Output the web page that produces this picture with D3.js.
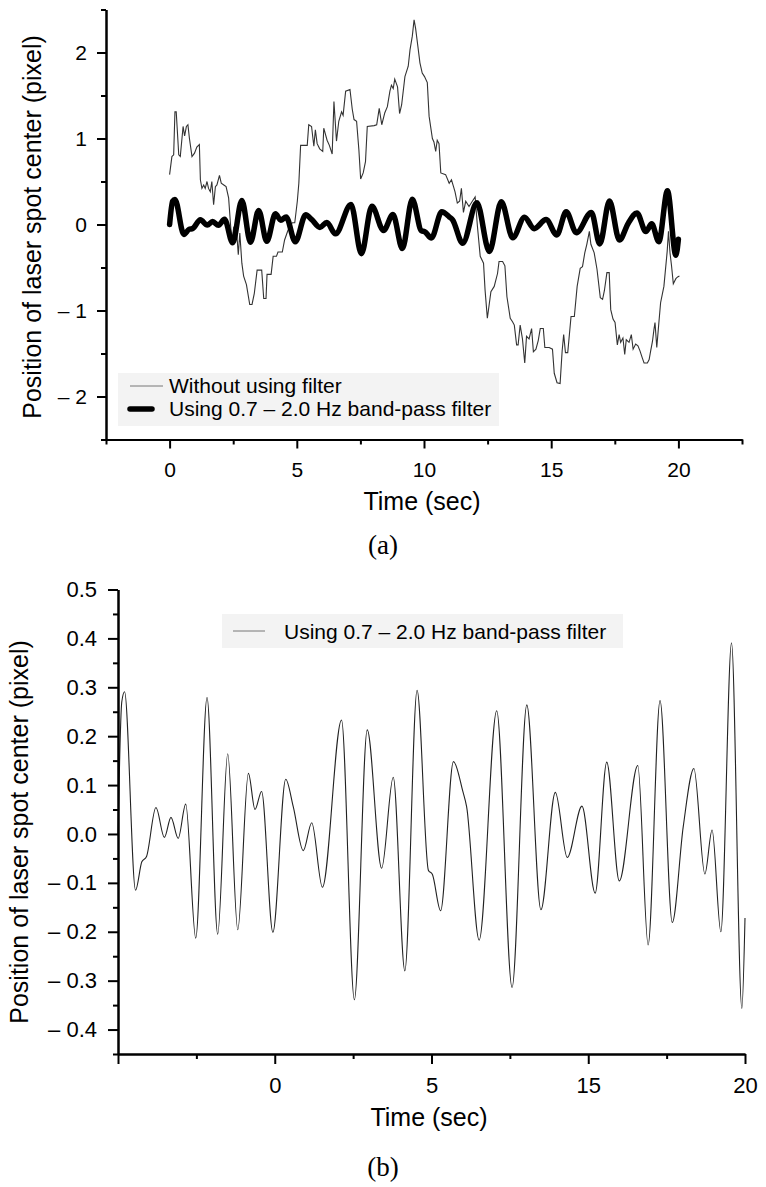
<!DOCTYPE html>
<html>
<head>
<meta charset="utf-8">
<script src="https://cdn.jsdelivr.net/npm/d3@7"></script>
<style>
  body { margin: 0; background: #fff; }
  text { font-family: "Liberation Sans", Arial, sans-serif; fill: #000; }
  .axis path, .axis line { stroke: #000; stroke-width: 2; }
  .axis text { font-size: 21px; }
</style>
</head>
<body>
<script>
// filtered signal (0.7 - 2.0 Hz band-pass), time in sec / value in pixel
let filtTime = [0, 0.12, 0.21, 0.56, 0.76, 0.91, 1.21, 1.48, 1.69, 1.92, 2.16, 2.48, 2.84, 3.18, 3.50, 3.82,
  4.16, 4.37, 4.58, 4.94, 5.35, 5.59, 5.91, 6.18, 6.52, 7.13, 7.54, 7.95, 8.41, 8.78, 9.15, 9.54, 9.90,
  10.03, 10.29, 10.70, 11.0, 11.12, 11.52, 12.08, 12.57, 13.04, 13.49, 13.95, 14.33, 14.80, 15.22, 15.59,
  15.99, 16.58, 16.91, 17.29, 17.68, 18.03, 18.37, 18.72, 18.95, 19.23, 19.57, 19.90, 20.0];
let filtValue = [0.0, 0.27, 0.291, -0.115, -0.057, -0.046, 0.054, -0.007, 0.034, -0.009, 0.061, -0.213, 0.279,
  -0.205, 0.164, -0.196, 0.124, 0.050, 0.087, -0.201, 0.112, 0.056, -0.034, 0.023, -0.109, 0.233, -0.339,
  0.213, -0.070, 0.116, -0.280, 0.294, -0.074, -0.083, -0.157, 0.148, 0.087, 0.056, -0.217, 0.252, -0.314,
  0.264, -0.155, 0.085, -0.048, 0.057, -0.121, 0.147, -0.096, 0.140, -0.227, 0.273, -0.181, 0.015, 0.134,
  -0.082, 0.008, -0.200, 0.391, -0.357, -0.172];

// unfiltered signal
let rawTime = [0, 0.09, 0.16, 0.21, 0.26, 0.36, 0.42, 0.53, 0.59, 0.66, 0.72, 0.78, 0.88, 0.98, 1.07, 1.17,
  1.21, 1.27, 1.34, 1.40, 1.47, 1.53, 1.60, 1.66, 1.73, 1.80, 1.86, 1.96, 2.03, 2.13, 2.22, 2.32, 2.39,
  2.45, 2.52, 2.62, 2.70, 2.76, 2.84, 2.91, 3.02, 3.15, 3.24, 3.33, 3.44, 3.57, 3.62, 3.70, 3.79, 3.83,
  3.99, 4.07, 4.20, 4.26, 4.43, 4.52, 4.65, 4.82, 4.92, 5.02, 5.08, 5.15, 5.41, 5.47, 5.58, 5.67, 5.73,
  5.80, 5.90, 6.02, 6.06, 6.19, 6.28, 6.39, 6.46, 6.56, 6.65, 6.76, 6.82, 6.92, 7.09, 7.18, 7.25, 7.35,
  7.44, 7.51, 7.61, 7.70, 7.77, 8.04, 8.14, 8.24, 8.34, 8.46, 8.56, 8.66, 8.72, 8.79, 8.85, 8.96, 9.04,
  9.12, 9.25, 9.38, 9.45, 9.54, 9.61, 9.67, 9.76, 9.84, 9.93, 10.02, 10.13, 10.20, 10.33, 10.39, 10.46,
  10.52, 10.59, 10.66, 10.85, 10.99, 11.08, 11.16, 11.22, 11.31, 11.40, 11.47, 11.55, 11.64, 11.77, 11.90,
  12.01, 12.10, 12.21, 12.34, 12.40, 12.49, 12.63, 12.76, 12.89, 12.95, 13.09, 13.18, 13.26, 13.39, 13.48,
  13.55, 13.64, 13.70, 13.78, 13.87, 13.96, 14.03, 14.13, 14.23, 14.30, 14.40, 14.49, 14.57, 14.69, 14.75,
  14.92, 15.05, 15.12, 15.23, 15.35, 15.43, 15.49, 15.56, 15.65, 15.78, 15.91, 16.02, 16.14, 16.23, 16.32,
  16.40, 16.50, 16.56, 16.69, 16.80, 16.93, 17.02, 17.09, 17.19, 17.28, 17.34, 17.43, 17.51, 17.60, 17.67,
  17.73, 17.82, 17.89, 17.95, 18.06, 18.15, 18.22, 18.32, 18.41, 18.49, 18.58, 18.65, 18.78, 18.85, 18.91,
  18.98, 19.04, 19.08, 19.15, 19.21, 19.30, 19.43, 19.56, 19.61, 19.67, 19.73, 19.80, 19.90, 19.97, 20.04];
let rawValue = [0.58, 0.79, 0.81, 1.31, 1.31, 0.81, 0.79, 1.14, 1.03, 1.14, 1.16, 1.0, 0.79, 0.83, 0.9, 0.93,
  0.52, 0.42, 0.46, 0.42, 0.50, 0.42, 0.38, 0.50, 0.23, 0.44, 0.46, 0.57, 0.48, 0.46, 0.44, 0.31, 0.02,
  -0.21, -0.03, -0.02, -0.35, -0.10, -0.45, -0.60, -0.70, -0.93, -0.93, -0.80, -0.53, -0.53, -0.53, -0.86,
  -0.86, -0.58, -0.58, -0.37, -0.37, -0.32, -0.32, -0.18, -0.07, 0.02, 0.02, 0.27, 0.48, 0.92, 0.92, 1.16,
  1.14, 0.91, 1.10, 0.94, 0.88, 0.85, 1.12, 0.98, 0.92, 0.82, 1.43, 0.97, 1.20, 1.31, 1.27, 1.55, 1.57,
  1.34, 1.22, 1.20, 0.87, 0.53, 0.60, 0.73, 1.14, 1.15, 1.16, 1.35, 1.16, 1.30, 1.37, 1.55, 1.62, 1.58,
  1.69, 1.60, 1.29, 1.39, 1.72, 1.84, 2.03, 2.19, 2.38, 2.28, 2.07, 1.88, 1.76, 1.72, 1.65, 1.26, 1.00,
  0.96, 0.85, 0.98, 0.94, 0.60, 0.58, 0.48, 0.52, 0.44, 0.38, 0.25, 0.27, 0.42, 0.14, 0.27, 0.21, 0.27,
  0.32, -0.02, -0.37, -0.45, -0.76, -1.09, -0.78, -0.72, -0.57, -0.43, -0.43, -0.48, -0.84, -1.09, -1.13,
  -1.17, -1.40, -1.40, -1.17, -1.33, -1.61, -1.30, -1.33, -1.21, -1.48, -1.45, -1.35, -1.21, -1.21, -1.43,
  -1.43, -1.45, -1.73, -1.84, -1.85, -1.47, -1.28, -1.49, -1.49, -1.07, -1.07, -0.72, -0.51, -0.49, -0.33,
  -0.23, -0.08, -0.23, -0.33, -0.52, -0.85, -0.87, -0.77, -0.56, -0.56, -0.99, -1.10, -1.14, -1.40, -1.28,
  -1.37, -1.32, -1.51, -1.34, -1.37, -1.28, -1.45, -1.39, -1.41, -1.47, -1.55, -1.61, -1.61, -1.57, -1.47,
  -1.36, -1.22, -1.14, -1.43, -1.22, -0.91, -0.72, -0.31, -0.08, -0.33, -0.48, -0.69, -0.63, -0.61, -0.60];

// ticks and labels
let aXTicks = [0, 5, 10, 15, 20];
let aXLabels = ["0", "5", "10", "15", "20"];
let aXMinor = [-2.5, 2.5, 7.5, 12.5, 17.5, 22.5];
let aYTicks = [-2, -1, 0, 1, 2];
let aYLabels = ["\u2013 2", "\u2013 1", "0", "1", "2"];
let aYMinor = [-2.5, -1.5, -0.5, 0.5, 1.5, 2.5];

let bXTicks = [0, 5, 10, 15, 20];
let bXLabels = ["", "0", "5", "15", "20"];   // labels as printed on the figure
let bXMinor = [2.5, 7.5, 12.5, 17.5];
let bYTicks = [-0.4, -0.3, -0.2, -0.1, 0, 0.1, 0.2, 0.3, 0.4, 0.5];
let bYLabels = ["\u2013 0.4", "\u2013 0.3", "\u2013 0.2", "\u2013 0.1", "0.0", "0.1", "0.2", "0.3", "0.4", "0.5"];
let bYMinor = [-0.45, -0.35, -0.25, -0.15, -0.05, 0.05, 0.15, 0.25, 0.35, 0.45];

let legendA = ["Without using filter", "Using 0.7 \u2013 2.0 Hz band-pass filter"];
let legendB = ["Using 0.7 \u2013 2.0 Hz band-pass filter"];

let w = 766;
let h = 1187;

let filtData = filtTime.map((t, i) => ({ t: t, v: filtValue[i] }));
let rawData = rawTime.map((t, i) => ({ t: t, v: rawValue[i] }));

let svg = d3.select("body")
            .append("svg")
            .attr("width", w)
            .attr("height", h);

// ---------- panel (a) ----------
let xA = d3.scaleLinear().domain([-2.5, 22.5]).range([106, 742]);
let yA = d3.scaleLinear().domain([-2.5, 2.5]).range([439.5, 9.5]);

// legend box sits behind the lines
let legA = svg.append("g");
legA.append("rect")
    .attr("x", 118).attr("y", 373)
    .attr("width", 381).attr("height", 53)
    .attr("fill", "#f3f3f3");

let lineA = d3.line().x(d => xA(d.t)).y(d => yA(d.v));

svg.append("path")
   .datum(rawData)
   .attr("fill", "none")
   .attr("stroke", "#333")
   .attr("stroke-width", 1.1)
   .attr("d", lineA);

svg.append("path")
   .datum(filtData)
   .attr("fill", "none")
   .attr("stroke", "#000")
   .attr("stroke-width", 5.5)
   .attr("stroke-linejoin", "round")
   .attr("stroke-linecap", "round")
   .attr("d", lineA.curve(d3.curveMonotoneX));

legA.append("line")
    .attr("x1", 130).attr("x2", 163).attr("y1", 386).attr("y2", 386)
    .attr("stroke", "#777").attr("stroke-width", 1);
legA.append("line")
    .attr("x1", 130).attr("x2", 152).attr("y1", 409).attr("y2", 409)
    .attr("stroke", "#000").attr("stroke-width", 5.5).attr("stroke-linecap", "round");
legA.selectAll("text.lg")
    .data(legendA)
    .enter().append("text")
    .attr("class", "lg")
    .attr("x", 169)
    .attr("y", (d, i) => 393 + i * 23)
    .style("font-size", "21px")
    .text(d => d);

// axes (minor then major)
svg.append("g").attr("class", "axis")
   .attr("transform", "translate(0,439.5)")
   .call(d3.axisBottom(xA).tickValues(aXMinor).tickSize(5).tickSizeOuter(0).tickFormat(""));
svg.append("g").attr("class", "axis")
   .attr("transform", "translate(0,439.5)")
   .call(d3.axisBottom(xA).tickValues(aXTicks).tickSize(9).tickSizeOuter(0).tickPadding(14)
         .tickFormat((d, i) => aXLabels[i]));

svg.append("g").attr("class", "axis")
   .attr("transform", "translate(106,0)")
   .call(d3.axisLeft(yA).tickValues(aYMinor).tickSize(5).tickSizeOuter(0).tickFormat(""));
svg.append("g").attr("class", "axis")
   .attr("transform", "translate(106,0)")
   .call(d3.axisLeft(yA).tickValues(aYTicks).tickSize(9).tickSizeOuter(0).tickPadding(10)
         .tickFormat((d, i) => aYLabels[i]));

svg.append("text")
   .attr("transform", "translate(41,227) rotate(-90)")
   .attr("text-anchor", "middle")
   .style("font-size", "25px")
   .text("Position of laser spot center (pixel)");

svg.append("text")
   .attr("x", 422).attr("y", 510)
   .attr("text-anchor", "middle")
   .style("font-size", "25px")
   .text("Time (sec)");

svg.append("text")
   .attr("x", 383).attr("y", 554)
   .attr("text-anchor", "middle")
   .style("font-family", "'Liberation Serif', 'Times New Roman', serif")
   .style("font-size", "27px")
   .text("(a)");

// ---------- panel (b) ----------
let xB = d3.scaleLinear().domain([0, 20]).range([118, 745]);
let yB = d3.scaleLinear().domain([-0.45, 0.5]).range([1054, 589.5]);

let legB = svg.append("g");
legB.append("rect")
    .attr("x", 222).attr("y", 614)
    .attr("width", 401).attr("height", 34)
    .attr("fill", "#f3f3f3");
legB.append("line")
    .attr("x1", 233).attr("x2", 265).attr("y1", 631).attr("y2", 631)
    .attr("stroke", "#777").attr("stroke-width", 1);
legB.append("text")
    .attr("x", 284).attr("y", 639)
    .style("font-size", "21px")
    .text(legendB[0]);

let lineB = d3.line().x(d => xB(d.t)).y(d => yB(d.v)).curve(d3.curveMonotoneX);

svg.append("path")
   .datum(filtData)
   .attr("fill", "none")
   .attr("stroke", "#222")
   .attr("stroke-width", 1.1)
   .attr("d", lineB);

svg.append("g").attr("class", "axis")
   .attr("transform", "translate(0,1054)")
   .call(d3.axisBottom(xB).tickValues(bXMinor).tickSize(5).tickSizeOuter(0).tickFormat(""));
svg.append("g").attr("class", "axis")
   .attr("transform", "translate(0,1054)")
   .call(d3.axisBottom(xB).tickValues(bXTicks).tickSize(10).tickSizeOuter(0).tickPadding(13)
         .tickFormat((d, i) => bXLabels[i]))
   .selectAll("text").style("font-size", "22px");

svg.append("g").attr("class", "axis")
   .attr("transform", "translate(118,0)")
   .call(d3.axisLeft(yB).tickValues(bYMinor).tickSize(5).tickSizeOuter(0).tickFormat(""));
svg.append("g").attr("class", "axis")
   .attr("transform", "translate(118,0)")
   .call(d3.axisLeft(yB).tickValues(bYTicks).tickSize(10).tickSizeOuter(0).tickPadding(11)
         .tickFormat((d, i) => bYLabels[i]))
   .selectAll("text").style("font-size", "22px");

svg.append("text")
   .attr("transform", "translate(28,832) rotate(-90)")
   .attr("text-anchor", "middle")
   .style("font-size", "25px")
   .text("Position of laser spot center (pixel)");

svg.append("text")
   .attr("x", 429).attr("y", 1126)
   .attr("text-anchor", "middle")
   .style("font-size", "25px")
   .text("Time (sec)");

svg.append("text")
   .attr("x", 383).attr("y", 1176)
   .attr("text-anchor", "middle")
   .style("font-family", "'Liberation Serif', 'Times New Roman', serif")
   .style("font-size", "27px")
   .text("(b)");
</script>
</body>
</html>
